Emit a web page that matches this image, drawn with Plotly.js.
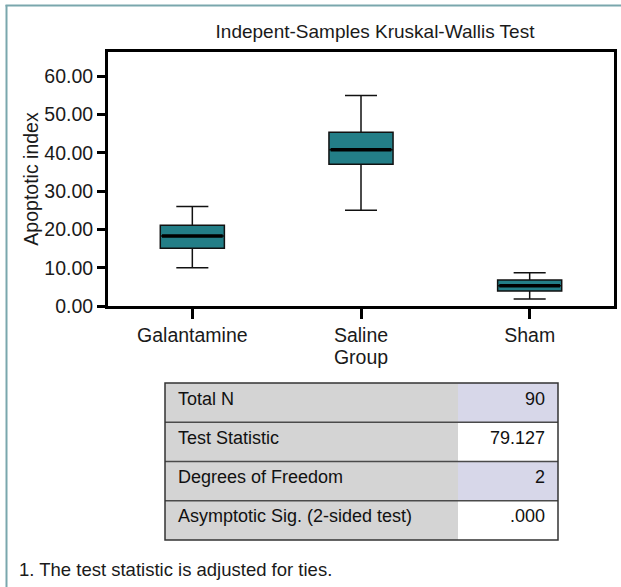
<!DOCTYPE html>
<html>
<head>
<meta charset="utf-8">
<script src="https://cdn.plot.ly/plotly-3.0.1.min.js"></script>
<style>
  html, body { margin: 0; padding: 0; background: #ffffff; }
  #chart { width: 621px; height: 587px; }
</style>
</head>
<body>
<div id="chart"></div>
<script>
// ---- data ----
const categories = ["Galantamine", "Saline", "Sham"];
const lowerFence = [10.0, 25.0, 1.8];
const q1Values   = [15.1, 37.0, 3.9];
const medians    = [18.3, 40.8, 5.3];
const q3Values   = [21.1, 45.4, 6.8];
const upperFence = [26.0, 55.0, 8.7];

const yTickVals = [0, 10, 20, 30, 40, 50, 60];
const yTickText = ["0.00", "10.00", "20.00", "30.00", "40.00", "50.00", "60.00"];

const tableLabels = ["Total N", "Test Statistic", "Degrees of Freedom", "Asymptotic Sig. (2-sided test)"];
const tableValues = ["90", "79.127", "2", ".000"];

const chartTitle = "Indepent-Samples Kruskal-Wallis Test";
const xTitle = "Group";
const yTitle = "Apoptotic index";
const footnote = "1. The test statistic is adjusted for ties.";

// ---- styling ----
const FONT = "Arial, 'Liberation Sans', Helvetica, sans-serif";
const TEAL = "#237e87";
const GRAY = "#d4d4d4";
const LAV = "#d7d7e9";
const FRAME = "#7aa7ad";

const W = 621, H = 587;
const mL = 108, mR = 7, mT = 52, mB = 0;
const pw = W - mL - mR, ph = H - mT - mB;
const px2x = p => (p - mL) / pw;
const py2y = p => (H - mB - p) / ph;

const TAB_TOP = 383, TAB_BOT = 540, TAB_L = 165, TAB_R = 558;
const ROW_H = (TAB_BOT - TAB_TOP) / 4;
const NB = "\u00a0";

const boxTrace = {
  type: "box",
  x: categories,
  q1: q1Values,
  median: medians,
  q3: q3Values,
  lowerfence: lowerFence,
  upperfence: upperFence,
  width: 0.38,
  whiskerwidth: 0.5,
  fillcolor: TEAL,
  line: { color: "#111111", width: 1.5 },
  boxpoints: false,
  hoverinfo: "skip",
  showlegend: false,
  xaxis: "x", yaxis: "y"
};

// thick median bars
const medianTrace = {
  type: "box",
  x: categories,
  q1: medians,
  median: medians,
  q3: medians,
  lowerfence: medians,
  upperfence: medians,
  width: 0.36,
  whiskerwidth: 0,
  fillcolor: "rgba(0,0,0,0)",
  line: { color: "#000000", width: 3.5 },
  boxpoints: false,
  hoverinfo: "skip",
  showlegend: false,
  xaxis: "x", yaxis: "y"
};

const cellFillLeft = tableLabels.slice(1).map(() => GRAY);
const cellFillRight = ["#ffffff", LAV, "#ffffff"];
const padL = s => NB + s;
const padR = s => s + NB;

const tableTrace = {
  type: "table",
  domain: { x: [px2x(TAB_L), px2x(TAB_R)], y: [py2y(TAB_BOT), py2y(TAB_TOP)] },
  columnwidth: [293, 100],
  header: {
    values: [padL(tableLabels[0]), padR(tableValues[0])],
    align: ["left", "right"],
    fill: { color: [GRAY, LAV] },
    line: { width: 0 },
    font: { family: FONT, size: 18, color: "#111111" },
    height: ROW_H
  },
  cells: {
    values: [tableLabels.slice(1).map(padL), tableValues.slice(1).map(padR)],
    align: ["left", "right"],
    fill: { color: [cellFillLeft, cellFillRight] },
    line: { width: 0 },
    font: { family: FONT, size: 18, color: "#111111" },
    height: ROW_H
  }
};

const rowLines = [1, 2, 3].map(k => ({
  type: "line", xref: "paper", yref: "paper",
  x0: px2x(TAB_L), x1: px2x(TAB_R),
  y0: py2y(TAB_TOP + k * ROW_H), y1: py2y(TAB_TOP + k * ROW_H),
  line: { color: "#4a4a4a", width: 1.3 }, layer: "above"
}));

const layout = {
  width: W, height: H,
  margin: { l: mL, r: mR, t: mT, b: mB, pad: 0 },
  paper_bgcolor: "#ffffff",
  plot_bgcolor: "#ffffff",
  font: { family: FONT, size: 19.5, color: "#1a1a1a" },
  title: {
    text: chartTitle,
    font: { family: FONT, size: 19, color: "#1a1a1a" },
    xref: "paper", x: px2x(375), xanchor: "center",
    yref: "container", y: 1 - 31.5 / H, yanchor: "middle"
  },
  showlegend: false,
  boxmode: "overlay",
  xaxis: {
    type: "category",
    range: [-0.5, 2.5],
    domain: [0, 1],
    anchor: "y",
    showline: true, linecolor: "#000000", linewidth: 3, mirror: true,
    ticks: "outside", ticklen: 10, tickwidth: 3, tickcolor: "#000000",
    showgrid: false, zeroline: false,
    tickfont: { family: FONT, size: 19.5, color: "#1a1a1a" },
    title: { text: xTitle, font: { family: FONT, size: 19.5, color: "#1a1a1a" }, standoff: 5 },
    fixedrange: true
  },
  yaxis: {
    range: [0, 66.35],
    domain: [py2y(306), 1],
    anchor: "x",
    showline: true, linecolor: "#000000", linewidth: 3, mirror: true,
    ticks: "outside", ticklen: 8, tickwidth: 3, tickcolor: "#000000",
    tickvals: yTickVals, ticktext: yTickText,
    showgrid: false, zeroline: false,
    tickfont: { family: FONT, size: 19.5, color: "#1a1a1a" },
    title: { text: yTitle, font: { family: FONT, size: 19.5, color: "#1a1a1a" }, standoff: 1 },
    fixedrange: true
  },
  shapes: [
    { type: "line", xref: "paper", yref: "paper",
      x0: px2x(6.5), x1: px2x(6.5), y0: py2y(5), y1: py2y(587),
      line: { color: FRAME, width: 2 } },
    { type: "line", xref: "paper", yref: "paper",
      x0: px2x(5.5), x1: px2x(621), y0: py2y(5.5), y1: py2y(5.5),
      line: { color: FRAME, width: 2 } },
    ...rowLines,
    { type: "rect", xref: "paper", yref: "paper",
      x0: px2x(TAB_L), x1: px2x(TAB_R), y0: py2y(TAB_BOT), y1: py2y(TAB_TOP),
      line: { color: "#333333", width: 1.5 }, fillcolor: "rgba(0,0,0,0)", layer: "above" }
  ],
  annotations: [
    { text: footnote, xref: "paper", yref: "paper",
      x: px2x(17), y: py2y(569), xanchor: "left", yanchor: "middle",
      showarrow: false, font: { family: FONT, size: 18.5, color: "#1a1a1a" } }
  ]
};

Plotly.newPlot("chart", [boxTrace, medianTrace, tableTrace], layout, { displayModeBar: false, staticPlot: true });
</script>
</body>
</html>
